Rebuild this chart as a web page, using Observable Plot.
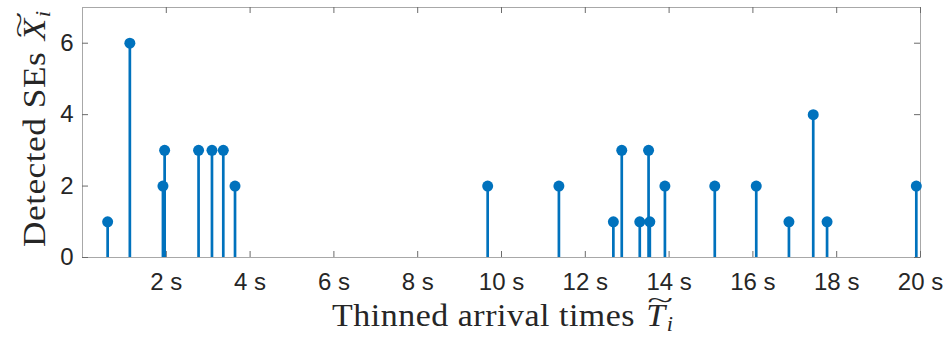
<!DOCTYPE html>
<html>
<head>
<meta charset="utf-8">
<script src="https://cdn.jsdelivr.net/npm/d3@7"></script>
<script src="https://cdn.jsdelivr.net/npm/@observablehq/plot@0.6"></script>
<style>
  html, body { margin: 0; padding: 0; background: #fff; }
  svg { display: block; }
</style>
</head>
<body>
<script>
// Thinned arrival times (seconds) and the number of detected SEs at each
const arrivalTimes = [0.60, 1.13, 1.92, 1.96, 2.77, 3.09, 3.36, 3.64,
                      9.67, 11.37, 12.67, 12.87, 13.30, 13.51, 13.54, 13.90,
                      15.09, 16.08, 16.86, 17.44, 17.77, 19.90];
const detectedSEs  = [1, 6, 2, 3, 3, 3, 3, 2,
                      2, 2, 1, 3, 1, 3, 1, 2,
                      2, 2, 1, 4, 1, 2];
const xTicks = [2, 4, 6, 8, 10, 12, 14, 16, 18, 20];
const yTicks = [0, 2, 4, 6];

const events = arrivalTimes.map((t, i) => ({t, n: detectedSEs[i]}));

const W = 946, H = 341;
const margin = {top: 7, right: 26, bottom: 84, left: 82};
const innerW = W - margin.left - margin.right;
const innerH = H - margin.top - margin.bottom;
const tickLen = 6;
const stemColor = "#0072BD";
const inkColor = "#262626";
const tickColor = "#6b6b6b";

const chart = Plot.plot({
  width: W,
  height: H,
  marginTop: margin.top,
  marginRight: margin.right,
  marginBottom: margin.bottom,
  marginLeft: margin.left,
  style: {fontFamily: "'Liberation Sans', Arial, sans-serif", fontSize: "24px", color: inkColor, background: "#fff"},
  x: {domain: [0, 20]},
  y: {domain: [0, 7]},
  marks: [
    Plot.frame({stroke: "#a8a8a8", strokeWidth: 1}),
    // inward box ticks: bottom, top, left, right
    Plot.tickX(xTicks, {x: d => d, insetTop: innerH - tickLen, stroke: tickColor}),
    Plot.tickX(xTicks, {x: d => d, insetBottom: innerH - tickLen, stroke: tickColor}),
    Plot.tickY(yTicks, {y: d => d, insetRight: innerW - tickLen, stroke: tickColor}),
    Plot.tickY(yTicks, {y: d => d, insetLeft: innerW - tickLen, stroke: tickColor}),
    // stems and their heads
    Plot.ruleX(events, {x: "t", y: "n", stroke: stemColor, strokeWidth: 2.7}),
    Plot.dot(events, {x: "t", y: "n", r: 5.5, fill: stemColor, stroke: "none"}),
    Plot.axisX(xTicks, {tickSize: 0, tickPadding: 15, tickFormat: d => `${d} s`, label: null, fill: inkColor}),
    Plot.axisY(yTicks, {tickSize: 0, tickPadding: 9, label: null, fill: inkColor})
  ]
});

document.body.append(chart);

// Axis titles with a wide tilde accent over the italic symbol
const svg = d3.select(chart);
const serif = "'Liberation Serif', 'Times New Roman', serif";
const titleSize = 32;

function mathTitle(g, prefix, symbol, sub) {
  const text = g.append("text")
    .attr("text-anchor", "start")
    .attr("font-family", serif)
    .attr("font-size", titleSize)
    .attr("letter-spacing", 0.5)
    .attr("fill", inkColor);
  text.append("tspan").text(prefix);
  text.append("tspan").attr("font-style", "italic").attr("dx", 2).text(symbol);
  text.append("tspan").attr("font-style", "italic").attr("font-size", 21).attr("dx", 1).attr("dy", 5).text(sub);
  const node = text.node();
  const idx = prefix.length;
  const s = node.getStartPositionOfChar(idx);
  const e = node.getEndPositionOfChar(idx);
  const cx = (s.x + e.x) / 2 + 4;
  g.append("text")
    .attr("text-anchor", "middle")
    .attr("font-family", serif)
    .attr("font-size", 30)
    .attr("fill", inkColor)
    .attr("transform", `translate(${cx},${-18}) scale(1.5,0.8)`)
    .text("~");
}

mathTitle(svg.append("g").attr("transform", "translate(332,326) scale(1.06,1)"),
  "Thinned arrival times ", "T", "i");
mathTitle(svg.append("g").attr("transform", "translate(45,247) rotate(-90) scale(1.1,1)"),
  "Detected SEs ", "X", "i");
</script>
</body>
</html>
